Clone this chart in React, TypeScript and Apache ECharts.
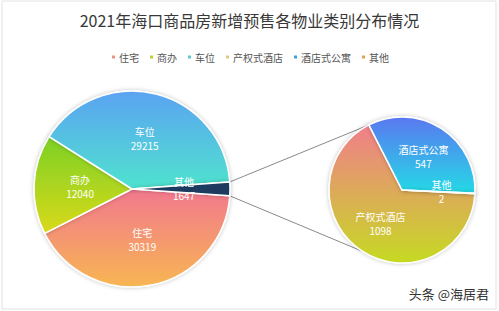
import React, { useEffect, useRef } from "react";
import * as echarts from "echarts";

const titleText = "2021年海口商品房新增预售各物业类别分布情况";
const leftNames = ["住宅", "商办", "车位", "其他"];
const leftValues = [30319, 12040, 29215, 1647];
const rightNames = ["产权式酒店", "酒店式公寓", "其他"];
const rightValues = [1098, 547, 2];
const legendNames = ["住宅", "商办", "车位", "产权式酒店", "酒店式公寓", "其他"];
const legendColors = ["#E9957F", "#BCD22E", "#5EC6D6", "#E2C87C", "#3DA2DA", "#E2A052"];
const sourceText = "头条 @海居君";

const grad = (a: string, b: string) =>
  new echarts.graphic.LinearGradient(0, 0, 0, 1, [
    { offset: 0, color: a },
    { offset: 1, color: b },
  ]);

const leftColors = [
  grad("#F2788E", "#F7B652"),
  grad("#7CD126", "#DAD91A"),
  grad("#5BA3F2", "#4FE3CE"),
  "#1E3A5F",
];
const rightColors = [
  grad("#F17E8C", "#C6DA22"),
  grad("#5A78F0", "#24DAE6"),
  "#1E3A5F",
];

const L = { cx: 132, cy: 189, r: 98, start: 356 };
const R = { cx: 402, cy: 190, r: 73, start: 357 };

export default function App() {
  const ref = useRef<HTMLDivElement>(null);
  useEffect(() => {
    if (!ref.current) return;
    const chart = echarts.init(ref.current, undefined, { renderer: "svg" });
    const font = "'Noto Sans CJK SC', 'Noto Sans', sans-serif";

    // connector geometry derived from data
    const total = leftValues.reduce((a, b) => a + b, 0);
    const otherSpan = (leftValues[3] / total) * 360;
    const a1 = ((L.start + otherSpan) * Math.PI) / 180;
    const a2 = (L.start * Math.PI) / 180;
    const rTotal = rightValues.reduce((a, b) => a + b, 0);
    const upperAngle = ((R.start - (rightValues[0] / rTotal) * 360 + 360) * Math.PI) / 180;
    const lowerAngle = (237 * Math.PI) / 180;
    const p = (c: typeof L, a: number) => [c.cx + c.r * Math.cos(a), c.cy - c.r * Math.sin(a)];
    const u1 = p(L, a1), u2 = p(R, upperAngle);
    const d1 = p(L, a2), d2 = p(R, lowerAngle);

    const label = {
      show: true,
      position: "inside",
      formatter: "{b}\n{c}",
      color: "#fff",
      fontSize: 10,
      lineHeight: 14,
      fontFamily: font,
    };

    chart.setOption({
      animation: false,
      backgroundColor: "#fff",
      title: {
        text: titleText,
        left: "center",
        top: 7,
        textStyle: { fontSize: 16, fontWeight: "normal", color: "#383838", fontFamily: font },
      },
      legend: {
        top: 47,
        left: "center",
        icon: "rect",
        itemWidth: 5,
        itemHeight: 5,
        itemGap: 9,
        textStyle: { fontSize: 10, color: "#555", fontFamily: font, padding: [0, 0, 0, -2] },
        data: legendNames.map((n, i) => ({ name: n, itemStyle: { color: legendColors[i] } })),
      },
      graphic: [
        {
          type: "rect",
          shape: { x: 2, y: 1, width: 494, height: 308 },
          style: { fill: "none", stroke: "#e2e2e2", lineWidth: 1 },
          z: 0,
        },
        {
          type: "line",
          shape: { x1: u1[0], y1: u1[1], x2: u2[0], y2: u2[1] },
          style: { stroke: "#8a8a8a", lineWidth: 1 },
          z: 1,
        },
        {
          type: "line",
          shape: { x1: d1[0], y1: d1[1], x2: d2[0], y2: d2[1] },
          style: { stroke: "#8a8a8a", lineWidth: 1 },
          z: 1,
        },
        {
          type: "text",
          right: 10,
          top: 287,
          style: { text: sourceText, fontSize: 13, fill: "#333", fontFamily: font },
        },
      ],
      series: [
        {
          type: "pie",
          center: [L.cx, L.cy],
          radius: L.r,
          startAngle: L.start,
          clockwise: true,
          avoidLabelOverlap: false,
          label,
          labelLine: { show: false },
          itemStyle: {
            borderColor: "#fff",
            borderWidth: 1.5,
            shadowBlur: 4,
            shadowColor: "rgba(0,0,0,0.25)",
          },
          emphasis: { disabled: true },
          data: leftNames.map((n, i) => ({
            name: n,
            value: leftValues[i],
            itemStyle: { color: leftColors[i] },
          })),
          z: 2,
        },
        {
          type: "pie",
          center: [R.cx, R.cy],
          radius: R.r,
          startAngle: R.start,
          clockwise: true,
          avoidLabelOverlap: false,
          label,
          labelLine: { show: false },
          itemStyle: {
            borderColor: "#fff",
            borderWidth: 1.5,
            shadowBlur: 4,
            shadowColor: "rgba(0,0,0,0.25)",
          },
          emphasis: { disabled: true },
          data: rightNames.map((n, i) => ({
            name: n,
            value: rightValues[i],
            itemStyle: { color: rightColors[i] },
          })),
          z: 2,
        },
      ],
    });
    return () => chart.dispose();
  }, []);
  return (
    <div
      ref={ref}
      style={{ position: "absolute", left: 0, top: 0, width: 499, height: 311 }}
    />
  );
}
